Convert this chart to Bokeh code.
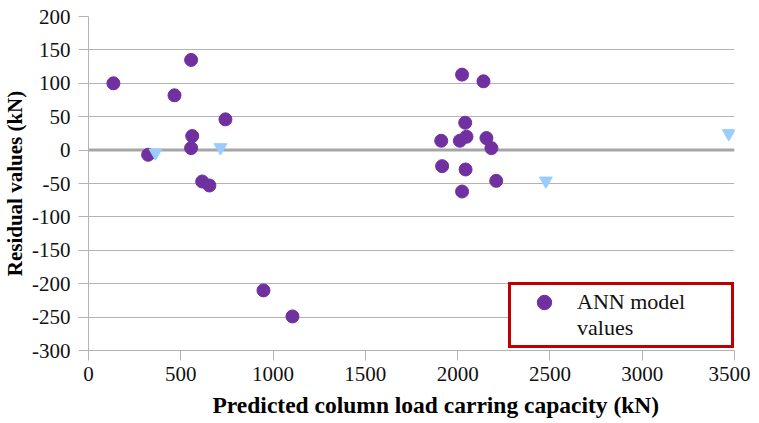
from bokeh.plotting import figure
from bokeh.models import Range1d, Span, Legend, LegendItem, FixedTicker, Title
from bokeh.embed import file_html
from bokeh.resources import INLINE

# ANN model residuals (purple circles)
ann_x = [135, 323, 466, 556, 562, 556, 616, 655, 742, 948, 1105,
         2024, 2140, 2041, 1911, 2012, 2048, 2156, 2183, 1916, 2043, 2209, 2024]
ann_y = [100, -7, 82, 135, 21, 3, -47, -53, 46, -210, -249,
         113, 103, 41, 14, 14, 20, 18, 3, -24, -29, -46, -62]

# second series (light blue inverted triangles, not in legend)
tri_x = [363, 715, 2478, 3469]
tri_y = [-4, 4, -46, 25]

x_ticks = [0, 500, 1000, 1500, 2000, 2500, 3000, 3500]
y_ticks = [-300, -250, -200, -150, -100, -50, 0, 50, 100, 150, 200]

FONT = "Liberation Serif"
GRID = "#B3B3B3"
PURPLE = "#7030A0"

p = figure(width=750, height=423, output_backend="svg", toolbar_location=None,
           x_range=Range1d(0, 3500), y_range=Range1d(-300, 200),
           min_border_left=88, min_border_right=16, min_border_top=16,
           min_border_bottom=73)
p.outline_line_color = None
p.background_fill_color = "white"
p.border_fill_color = "white"

p.xgrid.visible = False
p.ygrid.ticker = FixedTicker(ticks=y_ticks)
p.ygrid.grid_line_color = GRID
p.ygrid.grid_line_width = 1

p.xaxis.ticker = FixedTicker(ticks=x_ticks)
p.yaxis.ticker = FixedTicker(ticks=y_ticks)
p.xaxis.major_label_overrides = {t: str(t) for t in x_ticks}
p.yaxis.major_label_overrides = {t: str(t) for t in y_ticks}
for ax in (p.xaxis, p.yaxis):
    ax.axis_line_color = GRID
    ax.major_tick_line_color = GRID
    ax.major_tick_out = 10
    ax.major_tick_in = 0
    ax.minor_tick_line_color = None
    ax.major_label_text_font = FONT
    ax.major_label_text_font_size = "21px"
    ax.major_label_text_color = "#111111"

p.xaxis.major_label_standoff = 6
p.yaxis.major_label_standoff = 8
p.yaxis.axis_label = "Residual values (kN)"
p.yaxis.axis_label_text_font = FONT
p.yaxis.axis_label_text_font_style = "bold"
p.yaxis.axis_label_text_color = "#000000"
p.yaxis.axis_label_text_font_size = "21px"
p.yaxis.axis_label_standoff = 2

# x-axis title, placed below the axis and shifted right as in the original
xtitle = Title(text="Predicted column load carring capacity  (kN)",
               align="left", offset=124, standoff=12,
               text_font=FONT, text_font_style="bold",
               text_font_size="23.5px", text_color="#000000")
p.add_layout(xtitle, "below")

zero = Span(location=0, dimension="width", line_color="#A6A6A6",
            line_width=3, level="underlay")
p.add_layout(zero)

r_ann = p.scatter(ann_x, ann_y, marker="circle", size=13,
                  fill_color=PURPLE, line_color=PURPLE)
r_tri = p.scatter(tri_x, tri_y, marker="inverted_triangle", size=13,
                  fill_color="#99CCFF", line_color="#99CCFF")
# empty, invisible renderer: the boxed legend shows only the text
r_blank = p.scatter(x=[], y=[], marker="circle", size=1,
                    fill_alpha=0, line_alpha=0)

# red box with the wrapped legend text
legend_box = Legend(items=[LegendItem(label="ANN model\nvalues", renderers=[r_blank])],
                    location=(420, 2), margin=0, padding=4,
                    glyph_width=62, glyph_height=20, label_standoff=0,
                    label_width=150,
                    border_line_color="#C00000", border_line_width=3,
                    border_line_alpha=1,
                    background_fill_color="white", background_fill_alpha=1,
                    label_text_font=FONT, label_text_font_size="22px",
                    label_text_line_height=1.1,
                    label_text_color="#111111")
p.add_layout(legend_box)

# legend marker aligned with the first text line
legend_mark = Legend(items=[LegendItem(label=" ", renderers=[r_ann])],
                     location=(438, 30), margin=0, padding=0,
                     glyph_width=36, glyph_height=36, label_standoff=0,
                     label_width=1, border_line_color=None,
                     background_fill_alpha=0,
                     label_text_font=FONT, label_text_font_size="22px")
p.add_layout(legend_mark)

open("out.html", "w").write(file_html(p, INLINE))
